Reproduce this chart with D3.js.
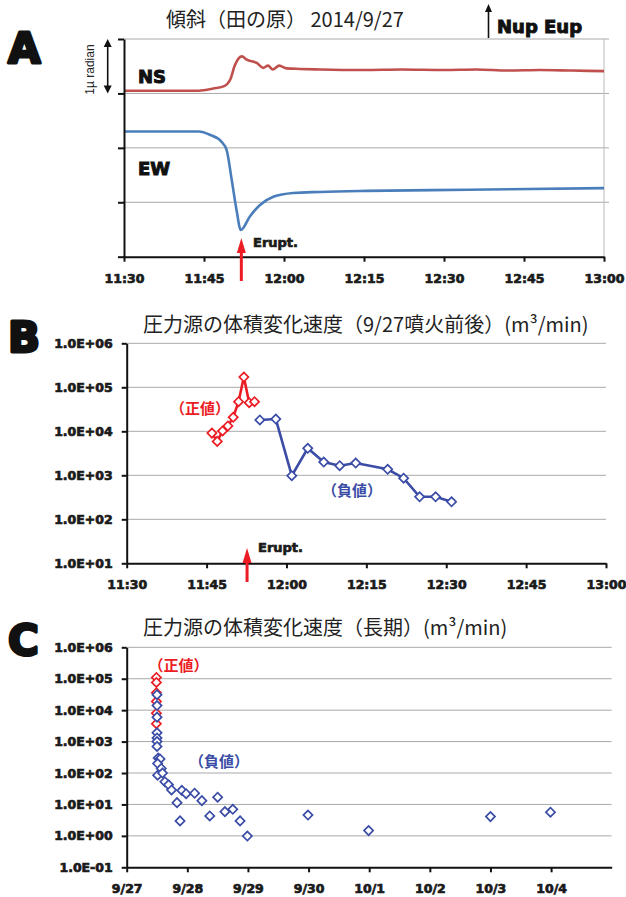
<!DOCTYPE html>
<html lang="ja">
<head>
<meta charset="UTF-8">
<title>傾斜と圧力源の体積変化速度</title>
<style>
    body {
        margin: 0;
        background: #fff;
    }
    svg {
        display: block;
    }
    .title {
        font-family: "Noto Sans CJK JP", sans-serif;
        font-size: 20px;
        fill: #222;
    }
    .axis .tick text, .blabel {
        font-family: "DejaVu Sans", sans-serif;
        font-weight: bold;
        font-size: 12.5px;
        fill: #1a1a1a;
        stroke: #1a1a1a;
        stroke-width: 0.7px;
    }
    .blabel {
        font-size: 13px;
    }
    .axis .tick line, .axis path.domain {
        stroke: #111;
        stroke-width: 2px;
    }
    .grid line {
        stroke: #a9a9a9;
        stroke-width: 1px;
    }
    .letter {
        font-family: "DejaVu Sans", sans-serif;
        font-weight: bold;
        font-size: 42px;
        fill: #111;
        stroke: #111;
        stroke-width: 3px;
        stroke-linejoin: round;
    }
    .big {
        font-family: "DejaVu Sans", sans-serif;
        font-weight: bold;
        font-size: 18px;
        fill: #111;
        stroke: #111;
        stroke-width: 1px;
    }
    .sign {
        font-family: "Noto Sans CJK JP", sans-serif;
        font-weight: bold;
        font-size: 15px;
    }
</style>
</head>
<body>
<div id="chart"></div>
<script src="https://cdn.jsdelivr.net/npm/d3@7"></script>
<script>
    // panel A: tilt (µrad), minutes after 11:30
    var nsMin = [0, 10, 14, 16.75, 18.9, 19.9, 20.8, 22.1, 23, 24.9, 26.1, 27, 27.9, 29.1, 30.5, 33, 36.75, 45, 52, 60, 66, 72, 78, 84, 90];
    var nsVal = [3.05, 3.05, 3.05, 3.09, 3.14, 3.25, 3.52, 3.68, 3.62, 3.56, 3.47, 3.51, 3.44, 3.51, 3.46, 3.45, 3.44, 3.43, 3.44, 3.43, 3.44, 3.42, 3.43, 3.42, 3.41];
    var ewMin = [0, 14, 16.1, 18.3, 19.25, 20.2, 21.1, 21.9, 23.6, 25.5, 28, 31.7, 36.75, 45.5, 64.4, 90];
    var ewVal = [2.30, 2.30, 2.24, 2.11, 1.96, 1.41, 0.86, 0.49, 0.74, 0.95, 1.10, 1.17, 1.19, 1.21, 1.23, 1.26];
    var tiltTicks = [0, 1, 2, 3, 4];
    var eruptMinA = 22.0;

    // panel B: volume change rate around the eruption (m3/min)
    var bPosTimes = ["11:46", "11:47", "11:48", "11:49", "11:50", "11:51", "11:52", "11:53", "11:54"];
    var bPosVals = [9100, 5900, 10200, 13200, 20800, 47000, 171000, 44700, 47000];
    var bNegTimes = ["11:55", "11:58", "12:01", "12:04", "12:07", "12:10", "12:13", "12:19", "12:22", "12:25", "12:28", "12:31"];
    var bNegVals = [18100, 19000, 980, 4100, 2000, 1650, 1900, 1370, 860, 325, 325, 250];
    var bTicks = [1e1, 1e2, 1e3, 1e4, 1e5, 1e6];
    var eruptMinB = 22.6;

    // panel C: long term (days after 9/27 00:00)
    var cPosDays = [0.49, 0.49, 0.49, 0.49, 0.49, 0.49];
    var cPosVals = [110000, 76000, 36000, 19000, 8000, 3700];
    var cNegDays = [0.50, 0.50, 0.50, 0.50, 0.50, 0.50, 0.50, 0.52, 0.55, 0.51, 0.57, 0.51, 0.59, 0.63, 0.69, 0.74, 0.83, 0.88, 0.91, 0.98, 1.12, 1.24, 1.37, 1.50, 1.62, 1.75, 1.87, 1.99, 2.99, 3.99, 6.00, 6.99];
    var cNegVals = [31000, 14000, 6000, 1900, 1300, 1000, 700, 300, 280, 200, 140, 85, 100, 53, 42, 29, 11.4, 3.0, 28, 22, 22.7, 13.2, 4.3, 17, 5.9, 7.0, 3.0, 0.99, 4.6, 1.47, 4.1, 5.65];
    var cTicks = [1e-1, 1e0, 1e1, 1e2, 1e3, 1e4, 1e5, 1e6];

    var red = "#ec1c24", blue = "#3a4ca6";
    var t0 = new Date(2014, 8, 27, 11, 30);
    var t1 = new Date(2014, 8, 27, 13, 0);
    var day0 = new Date(2014, 8, 27);
    function atMin(m) { return new Date(t0.getTime() + m * 60000); }
    function atDay(d) { return new Date(day0.getTime() + d * 86400000); }
    var parseHM = d3.timeParse("%Y-%m-%d %H:%M");
    function atHM(s) { return parseHM("2014-09-27 " + s); }
    function sci(v) {
        var e = Math.round(Math.log10(v));
        return "1.0E" + (e < 0 ? "-" : "+") + (Math.abs(e) < 10 ? "0" : "") + Math.abs(e);
    }

    var svg = d3.select("#chart").append("svg")
        .attr("width", 626)
        .attr("height", 897);

    function grid(x0, x1, y, vals) {
        svg.append("g").attr("class", "grid")
            .selectAll("line").data(vals).enter().append("line")
            .attr("x1", x0).attr("x2", x1)
            .attr("y1", function(d) { return y(d); })
            .attr("y2", function(d) { return y(d); });
    }

    function eruptArrow(x, yTip, yEnd, lx, ly) {
        svg.append("line")
            .attr("x1", x).attr("x2", x)
            .attr("y1", yTip + 12).attr("y2", yEnd)
            .attr("stroke", red).attr("stroke-width", 3);
        svg.append("path")
            .attr("d", "M" + x + "," + yTip + "L" + (x - 4.5) + "," + (yTip + 15) + "L" + (x + 4.5) + "," + (yTip + 15) + "Z")
            .attr("fill", red);
        svg.append("text").attr("class", "blabel")
            .attr("x", lx).attr("y", ly).text("Erupt.");
    }

    function diamonds(data, color) {
        svg.append("g").selectAll("path").data(data).enter().append("path")
            .attr("d", d3.symbol().type(d3.symbolSquare).size(42))
            .attr("transform", function(d) { return "translate(" + d[0] + "," + d[1] + ") rotate(45)"; })
            .attr("fill", "#fff")
            .attr("stroke", color)
            .attr("stroke-width", 1.7);
    }

    // ---------- A ----------
    var xA = d3.scaleTime().domain([t0, t1]).range([124, 604]);
    var yA = d3.scaleLinear().domain([0, 4]).range([256.7, 39]);

    grid(124, 609, yA, tiltTicks.slice(1));
    svg.append("line")
        .attr("x1", xA(t1)).attr("x2", xA(t1))
        .attr("y1", yA(4)).attr("y2", yA(0))
        .attr("stroke", "#bbb").attr("stroke-width", 1);

    var lineA = d3.line()
        .x(function(d) { return xA(atMin(d[0])); })
        .y(function(d) { return yA(d[1]); })
        .curve(d3.curveMonotoneX);

    svg.append("path")
        .datum(nsMin.map(function(m, i) { return [m, nsVal[i]]; }))
        .attr("d", lineA)
        .attr("fill", "none").attr("stroke", "#c0504d").attr("stroke-width", 2.6);
    svg.append("path")
        .datum(ewMin.map(function(m, i) { return [m, ewVal[i]]; }))
        .attr("d", lineA)
        .attr("fill", "none").attr("stroke", "#4a7ebb").attr("stroke-width", 2.6);

    svg.append("g").attr("class", "axis")
        .attr("transform", "translate(124,0)")
        .call(d3.axisLeft(yA).tickValues(tiltTicks).tickFormat("").tickSize(6).tickSizeOuter(0));
    svg.append("g").attr("class", "axis")
        .attr("transform", "translate(0,256.7)")
        .call(d3.axisBottom(xA).ticks(d3.timeMinute.every(15)).tickFormat(d3.timeFormat("%H:%M"))
            .tickSize(5).tickSizeOuter(0).tickPadding(12));

    svg.append("text").attr("class", "letter").attr("x", 8).attr("y", 63).text("A");
    svg.append("text").attr("class", "title").attr("x", 166).attr("y", 27).text("傾斜（田の原） 2014/9/27");
    svg.append("text").attr("class", "big").attr("x", 138).attr("y", 83).text("NS");
    svg.append("text").attr("class", "big").attr("x", 138).attr("y", 175).text("EW");

    // Nup Eup arrow
    svg.append("line").attr("x1", 488.5).attr("x2", 488.5).attr("y1", 10).attr("y2", 38)
        .attr("stroke", "#111").attr("stroke-width", 1.6);
    svg.append("path").attr("d", "M488.5,4L485,12L492,12Z").attr("fill", "#111");
    svg.append("text").attr("class", "big").attr("x", 497).attr("y", 33).text("Nup Eup");

    // 1µ radian scale
    svg.append("line").attr("x1", 107.7).attr("x2", 107.7).attr("y1", yA(4) + 6).attr("y2", yA(3) - 6)
        .attr("stroke", "#111").attr("stroke-width", 1.6);
    svg.append("path").attr("d", "M107.7," + yA(4) + "l-4,8h8Z").attr("fill", "#111");
    svg.append("path").attr("d", "M107.7," + yA(3) + "l-4,-8h8Z").attr("fill", "#111");
    svg.append("text")
        .attr("transform", "translate(94,69.5) rotate(-90)")
        .attr("text-anchor", "middle")
        .style("font-family", "Liberation Sans, sans-serif")
        .style("font-size", "12px")
        .style("fill", "#222")
        .text("1µ radian");

    eruptArrow(xA(atMin(eruptMinA)), 238, 281, 253, 247);

    // ---------- B ----------
    var xB = d3.scaleTime().domain([t0, t1]).range([126.7, 606]);
    var yB = d3.scaleLog().domain([1e1, 1e6]).range([563.3, 343.3]);

    grid(126.7, 606, yB, bTicks.slice(1));

    var lineB = d3.line()
        .x(function(d) { return d[0]; })
        .y(function(d) { return d[1]; });
    var bPos = bPosTimes.map(function(t, i) { return [xB(atHM(t)), yB(bPosVals[i])]; });
    var bNeg = bNegTimes.map(function(t, i) { return [xB(atHM(t)), yB(bNegVals[i])]; });

    svg.append("path").datum(bPos).attr("d", lineB)
        .attr("fill", "none").attr("stroke", red).attr("stroke-width", 2.6);
    svg.append("path").datum(bNeg).attr("d", lineB)
        .attr("fill", "none").attr("stroke", blue).attr("stroke-width", 2.6);
    diamonds(bPos, red);
    diamonds(bNeg, blue);

    svg.append("g").attr("class", "axis")
        .attr("transform", "translate(126.7,0)")
        .call(d3.axisLeft(yB).tickValues(bTicks).tickFormat(sci).tickSize(5).tickSizeOuter(0).tickPadding(9));
    svg.append("g").attr("class", "axis")
        .attr("transform", "translate(0,563.3)")
        .call(d3.axisBottom(xB).ticks(d3.timeMinute.every(15)).tickFormat(d3.timeFormat("%H:%M"))
            .tickSize(5).tickSizeOuter(0).tickPadding(12));

    svg.append("text").attr("class", "letter").attr("x", 8).attr("y", 352).text("B");
    svg.append("text").attr("class", "title").attr("x", 143).attr("y", 332).text("圧力源の体積変化速度（9/27噴火前後）(m³/min)");
    svg.append("text").attr("class", "sign").attr("text-anchor", "middle").attr("x", 200).attr("y", 414)
        .style("fill", red).text("（正値）");
    svg.append("text").attr("class", "sign").attr("text-anchor", "middle").attr("x", 352).attr("y", 496)
        .style("fill", blue).text("（負値）");

    eruptArrow(xB(atMin(eruptMinB)), 548, 582, 258, 552);

    // ---------- C ----------
    var xC = d3.scaleTime().domain([day0, atDay(8)]).range([126.7, 611.7]);
    var yC = d3.scaleLog().domain([1e-1, 1e6]).range([867.3, 647.3]);

    grid(126.7, 611.7, yC, cTicks.slice(1));

    diamonds(cPosDays.map(function(d, i) { return [xC(atDay(d)), yC(cPosVals[i])]; }), red);
    diamonds(cNegDays.map(function(d, i) { return [xC(atDay(d)), yC(cNegVals[i])]; }), blue);

    svg.append("g").attr("class", "axis")
        .attr("transform", "translate(126.7,0)")
        .call(d3.axisLeft(yC).tickValues(cTicks).tickFormat(sci).tickSize(5).tickSizeOuter(0).tickPadding(9));
    svg.append("g").attr("class", "axis")
        .attr("transform", "translate(0,867.3)")
        .call(d3.axisBottom(xC).tickValues(d3.timeDay.range(day0, atDay(8)))
            .tickFormat(d3.timeFormat("%-m/%-d")).tickSize(5).tickSizeOuter(0).tickPadding(12));

    svg.append("text").attr("class", "letter").attr("x", 8).attr("y", 655).text("C");
    svg.append("text").attr("class", "title").attr("x", 143).attr("y", 635).text("圧力源の体積変化速度（長期）(m³/min)");
    svg.append("text").attr("class", "sign").attr("text-anchor", "middle").attr("x", 178.5).attr("y", 670.5)
        .style("fill", red).text("（正値）");
    svg.append("text").attr("class", "sign").attr("text-anchor", "middle").attr("x", 219).attr("y", 767)
        .style("fill", blue).text("（負値）");
</script>
</body>
</html>
